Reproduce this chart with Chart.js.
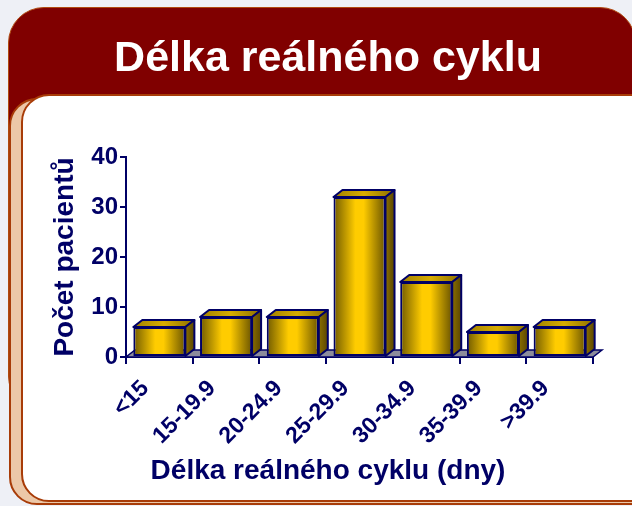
<!DOCTYPE html>
<html>
<head>
<meta charset="utf-8">
<script src="https://cdn.jsdelivr.net/npm/chart.js@4/dist/chart.umd.min.js"></script>
<style>
  html, body { margin: 0; padding: 0; }
  body { width: 632px; height: 506px; background: #eef0f6; position: relative; overflow: hidden; }
  .panel { position: absolute; box-sizing: border-box; }
  #dark { left: 8px; top: 7px; width: 628px; height: 405px; border-radius: 36px; background: #800000; border: 1px solid #b04a10; }
  #peach { left: 9px; top: 98px; width: 660px; height: 407px; border-radius: 28px; background: #ecc8a8; border: 2px solid #a83c08; }
  #white { left: 21px; top: 94px; width: 660px; height: 408px; border-radius: 28px; background: #ffffff; border: 2px solid #a83c08; }
  #c { position: absolute; left: 0; top: 0; }
</style>
</head>
<body>
<div class="panel" id="dark"></div>
<div class="panel" id="peach"></div>
<div class="panel" id="white"></div>
<canvas id="c" width="632" height="506"></canvas>
<script>
const titleText = 'Délka reálného cyklu';
const xTitle = 'Délka reálného cyklu (dny)';
const yTitle = 'Počet pacientů';
const categories = ['<15', '15-19.9', '20-24.9', '25-29.9', '30-34.9', '35-39.9', '>39.9'];
const patients = [6, 8, 8, 32, 15, 5, 6];
const yTicks = [0, 10, 20, 30, 40];

const NAVY = '#000066';
const FONT = '"Liberation Sans", Arial, sans-serif';
const DEPTH_X = 9, DEPTH_Y = 7;
const BAR_PCT = 0.78;

function frontGradient(c) {
  const chart = c.chart, xs = chart.scales.x;
  if (!xs || !xs.width || c.dataIndex === undefined) return '#ffcc00';
  const w = xs.width / categories.length * BAR_PCT;
  const cx = xs.getPixelForValue(c.dataIndex);
  const g = chart.ctx.createLinearGradient(cx - w / 2, 0, cx + w / 2, 0);
  g.addColorStop(0, '#705a00');
  g.addColorStop(0.42, '#ffcc00');
  g.addColorStop(0.58, '#ffcc00');
  g.addColorStop(1, '#6a5400');
  return g;
}

const floorPlugin = {
  id: 'floor3d',
  beforeDatasetsDraw(chart) {
    const {ctx} = chart;
    const xs = chart.scales.x, ys = chart.scales.y;
    const b = ys.getPixelForValue(0);
    ctx.save();
    ctx.beginPath();
    ctx.moveTo(xs.left, b);
    ctx.lineTo(xs.right, b);
    ctx.lineTo(xs.right + DEPTH_X, b - DEPTH_Y);
    ctx.lineTo(xs.left + DEPTH_X, b - DEPTH_Y);
    ctx.closePath();
    ctx.fillStyle = '#8c8c9c';
    ctx.fill();
    ctx.lineWidth = 1.5;
    ctx.strokeStyle = NAVY;
    ctx.stroke();
    ctx.restore();
  }
};

const barPlugin = {
  id: 'bars3d',
  afterDatasetsDraw(chart) {
    const {ctx} = chart;
    const meta = chart.getDatasetMeta(0);
    ctx.save();
    ctx.lineJoin = 'round';
    meta.data.forEach((el) => {
      const {x, y, base, width} = el.getProps(['x', 'y', 'base', 'width'], true);
      const l = x - width / 2, r = x + width / 2;
      const gt = ctx.createLinearGradient(l, 0, r + DEPTH_X, 0);
      gt.addColorStop(0, '#a08000');
      gt.addColorStop(0.5, '#d8ac00');
      gt.addColorStop(1, '#8a6e00');
      ctx.beginPath();
      ctx.moveTo(l, y);
      ctx.lineTo(l + DEPTH_X, y - DEPTH_Y);
      ctx.lineTo(r + DEPTH_X, y - DEPTH_Y);
      ctx.lineTo(r, y);
      ctx.closePath();
      ctx.fillStyle = gt;
      ctx.fill();
      ctx.lineWidth = 2;
      ctx.strokeStyle = NAVY;
      ctx.stroke();
      const gs = ctx.createLinearGradient(r, 0, r + DEPTH_X, 0);
      gs.addColorStop(0, '#8a6e00');
      gs.addColorStop(1, '#5a4600');
      ctx.beginPath();
      ctx.moveTo(r, y);
      ctx.lineTo(r + DEPTH_X, y - DEPTH_Y);
      ctx.lineTo(r + DEPTH_X, base - DEPTH_Y);
      ctx.lineTo(r, base);
      ctx.closePath();
      ctx.fillStyle = gs;
      ctx.fill();
      ctx.stroke();
    });
    ctx.restore();
  }
};

new Chart(document.getElementById('c'), {
  type: 'bar',
  data: {
    labels: categories,
    datasets: [{
      data: patients,
      backgroundColor: frontGradient,
      borderColor: NAVY,
      borderWidth: 2,
      borderSkipped: false,
      barPercentage: BAR_PCT,
      categoryPercentage: 1
    }]
  },
  options: {
    responsive: false,
    animation: false,
    devicePixelRatio: 1,
    layout: { padding: { left: 40, right: 16, top: 0, bottom: 0 } },
    plugins: {
      legend: { display: false },
      tooltip: { enabled: false },
      title: {
        display: true,
        text: titleText,
        color: '#ffffff',
        font: { family: FONT, size: 43, weight: 'bold', lineHeight: 1.2 },
        padding: { top: 33, bottom: 72.4 }
      },
      subtitle: {
        display: true,
        position: 'bottom',
        text: xTitle,
        color: NAVY,
        font: { family: FONT, size: 28, weight: 'bold', lineHeight: 1.2 },
        padding: { top: 0, bottom: 18 }
      }
    },
    scales: {
      x: {
        afterFit: (s) => { s.height = 97.4; },
        grid: { display: true, drawOnChartArea: false, drawTicks: true, tickLength: 7, color: NAVY, lineWidth: 2, offset: true },
        border: { display: true, color: NAVY, width: 2 },
        ticks: {
          color: NAVY,
          maxRotation: 45, minRotation: 45,
          padding: 11,
          labelOffset: -14,
          font: { family: FONT, size: 23, weight: 'bold' }
        }
      },
      y: {
        min: 0, max: 40,
        afterFit: (s) => { s.width = 86; },
        afterBuildTicks: (s) => { s.ticks = yTicks.map(v => ({ value: v })); },
        grid: { display: true, drawOnChartArea: false, drawTicks: true, tickLength: 6, color: NAVY, lineWidth: 2 },
        border: { display: true, color: NAVY, width: 2 },
        ticks: {
          color: NAVY,
          padding: 2,
          font: { family: FONT, size: 24, weight: 'bold' }
        },
        title: {
          display: true,
          text: yTitle,
          color: NAVY,
          padding: { top: 8, bottom: 0 },
          font: { family: FONT, size: 28, weight: 'bold', lineHeight: 1.2 }
        }
      },
      spacer: {
        type: 'linear',
        position: 'right',
        display: true,
        afterFit: (s) => { s.width = 23; },
        grid: { display: false },
        border: { display: false },
        ticks: { display: false }
      }
    }
  },
  plugins: [floorPlugin, barPlugin]
});
</script>
</body>
</html>
